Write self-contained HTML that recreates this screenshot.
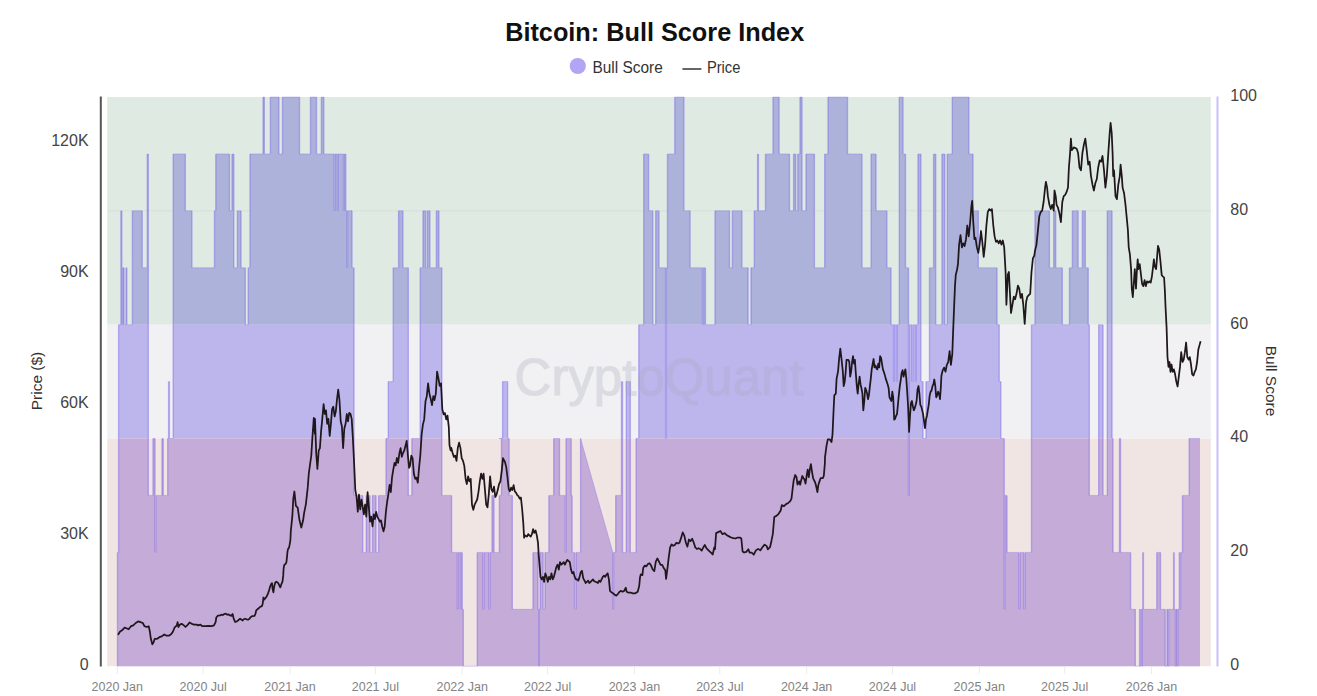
<!DOCTYPE html>
<html><head><meta charset="utf-8"><title>Bitcoin: Bull Score Index</title>
<style>html,body{margin:0;padding:0;background:#fff;}body{width:1317px;height:696px;overflow:hidden;}svg{display:block;}</style>
</head><body>
<svg width="1317" height="696" viewBox="0 0 1317 696"><rect x="107.2" y="97.0" width="1103.6" height="227.7" fill="#dfeae3"/><rect x="107.2" y="324.7" width="1103.6" height="113.8" fill="#f1f1f4"/><rect x="107.2" y="438.5" width="1103.6" height="227.7" fill="#f1e5e3"/><line x1="107.2" x2="1210.8" y1="210.8" y2="210.8" stroke="rgba(0,0,0,0.04)" stroke-width="1"/><defs><clipPath id="cg"><rect x="0" y="0" width="1317" height="324.7"/></clipPath><clipPath id="cy"><rect x="0" y="324.7" width="1317" height="113.8"/></clipPath><clipPath id="cp"><rect x="0" y="438.5" width="1317" height="696"/></clipPath></defs><text x="514.6" y="394.5" textLength="289" lengthAdjust="spacingAndGlyphs" font-family="Liberation Sans, sans-serif" font-size="51" fill="#ececf0" stroke="#ececf0" stroke-width="1.2">CryptoQuant</text><path d="M117.5,666.2 L117.5,552.4 L118.6,552.4 L118.6,324.7 L120.9,324.7 L120.9,210.8 L121.8,210.8 L121.8,324.7 L122.6,324.7 L122.6,267.8 L124.0,267.8 L124.0,324.7 L126.0,324.7 L126.0,267.8 L126.8,267.8 L126.8,324.7 L132.4,324.7 L132.4,210.8 L142.2,210.8 L142.2,267.8 L147.3,267.8 L147.3,153.9 L148.3,153.9 L148.3,495.4 L153.0,495.4 L153.0,438.5 L155.0,438.5 L155.0,552.4 L155.8,552.4 L155.8,495.4 L162.0,495.4 L162.0,438.5 L163.2,438.5 L163.2,495.4 L167.7,495.4 L167.7,438.5 L168.6,438.5 L168.6,381.6 L169.4,381.6 L169.4,438.5 L173.2,438.5 L173.2,153.9 L185.3,153.9 L185.3,210.8 L191.9,210.8 L191.9,267.8 L214.5,267.8 L214.5,210.8 L215.8,210.8 L215.8,153.9 L229.5,153.9 L229.5,210.8 L232.0,210.8 L232.0,153.9 L233.8,153.9 L233.8,267.8 L237.4,267.8 L237.4,210.8 L241.0,210.8 L241.0,267.8 L245.3,267.8 L245.3,324.7 L248.2,324.7 L248.2,267.8 L250.0,267.8 L250.0,153.9 L263.1,153.9 L263.1,97.0 L264.3,97.0 L264.3,153.9 L270.4,153.9 L270.4,97.0 L278.9,97.0 L278.9,153.9 L282.5,153.9 L282.5,97.0 L299.5,97.0 L299.5,153.9 L310.5,153.9 L310.5,97.0 L316.5,97.0 L316.5,153.9 L321.4,153.9 L321.4,97.0 L323.8,97.0 L323.8,153.9 L334.2,153.9 L334.2,210.8 L335.0,210.8 L335.0,153.9 L337.4,153.9 L337.4,210.8 L338.2,210.8 L338.2,153.9 L343.5,153.9 L343.5,210.8 L344.3,210.8 L344.3,153.9 L345.8,153.9 L345.8,210.8 L346.8,210.8 L346.8,267.8 L347.6,267.8 L347.6,210.8 L352.0,210.8 L352.0,267.8 L354.0,267.8 L354.0,495.4 L362.7,495.4 L362.7,552.4 L366.3,552.4 L366.3,495.4 L370.0,495.4 L370.0,552.4 L372.5,552.4 L372.5,495.4 L376.0,495.4 L376.0,552.4 L378.6,552.4 L378.6,495.4 L386.0,495.4 L386.0,438.5 L388.3,438.5 L388.3,381.6 L393.2,381.6 L393.2,267.8 L398.6,267.8 L398.6,210.8 L402.9,210.8 L402.9,267.8 L408.3,267.8 L408.3,495.4 L411.9,495.4 L411.9,438.5 L420.2,438.5 L420.2,267.8 L423.0,267.8 L423.0,210.8 L425.6,210.8 L425.6,267.8 L427.4,267.8 L427.4,210.8 L429.9,210.8 L429.9,267.8 L436.4,267.8 L436.4,210.8 L438.9,210.8 L438.9,267.8 L441.8,267.8 L441.8,495.4 L451.6,495.4 L451.6,552.4 L457.3,552.4 L457.3,609.3 L458.0,609.3 L458.0,552.4 L460.5,552.4 L460.5,609.3 L461.2,609.3 L461.2,552.4 L462.2,552.4 L462.2,609.3 L463.3,609.3 L463.3,666.2 L477.3,666.2 L477.3,552.4 L483.0,552.4 L483.0,609.3 L484.0,609.3 L484.0,552.4 L489.0,552.4 L489.0,609.3 L490.0,609.3 L490.0,552.4 L492.0,552.4 L492.0,495.4 L494.0,495.4 L494.0,552.4 L499.4,552.4 L499.4,495.4 L501.5,495.4 L501.5,438.5 L499.0,438.5 L499.0,438.5 L502.6,438.5 L502.6,381.6 L507.6,381.6 L507.6,438.5 L509.1,438.5 L509.1,495.4 L512.3,495.4 L512.3,609.3 L533.0,609.3 L533.0,552.4 L538.0,552.4 L538.0,609.3 L538.7,609.3 L538.7,666.2 L539.3,666.2 L539.3,609.3 L540.1,609.3 L540.1,552.4 L543.1,552.4 L543.1,609.3 L545.0,609.3 L545.0,552.4 L548.9,552.4 L548.9,495.4 L553.7,495.4 L553.7,438.5 L559.5,438.5 L559.5,495.4 L565.3,495.4 L565.3,552.4 L566.0,552.4 L566.0,438.5 L571.2,438.5 L571.2,495.4 L572.1,495.4 L572.1,552.4 L574.5,552.4 L574.5,609.3 L576.0,609.3 L576.0,552.4 L580.6,552.4 L580.6,438.5 L612.9,552.4 L612.9,552.4 L612.9,609.3 L613.6,609.3 L613.6,552.4 L615.7,552.4 L615.7,495.4 L621.5,495.4 L621.5,381.6 L622.5,381.6 L622.5,552.4 L626.3,552.4 L626.3,381.6 L630.3,381.6 L630.3,552.4 L636.1,552.4 L636.1,438.5 L638.8,438.5 L638.8,324.7 L643.7,324.7 L643.7,153.9 L648.6,153.9 L648.6,210.8 L652.8,210.8 L652.8,324.7 L655.7,324.7 L655.7,210.8 L659.0,210.8 L659.0,267.8 L665.6,267.8 L665.6,438.5 L666.4,438.5 L666.4,267.8 L667.5,267.8 L667.5,153.9 L674.8,153.9 L674.8,97.0 L683.9,97.0 L683.9,210.8 L690.1,210.8 L690.1,267.8 L702.5,267.8 L702.5,324.7 L703.5,324.7 L703.5,267.8 L705.4,267.8 L705.4,324.7 L715.0,324.7 L715.0,210.8 L729.5,210.8 L729.5,267.8 L732.4,267.8 L732.4,210.8 L741.9,210.8 L741.9,267.8 L748.1,267.8 L748.1,324.7 L751.0,324.7 L751.0,267.8 L754.3,267.8 L754.3,210.8 L757.6,210.8 L757.6,153.9 L758.4,153.9 L758.4,210.8 L765.5,210.8 L765.5,153.9 L773.0,153.9 L773.0,97.0 L779.1,97.0 L779.1,153.9 L789.5,153.9 L789.5,210.8 L793.6,210.8 L793.6,153.9 L795.7,153.9 L795.7,210.8 L797.8,210.8 L797.8,153.9 L800.0,153.9 L800.0,97.0 L802.0,97.0 L802.0,210.8 L806.0,210.8 L806.0,153.9 L814.4,153.9 L814.4,267.8 L824.7,267.8 L824.7,153.9 L828.0,153.9 L828.0,97.0 L847.5,97.0 L847.5,153.9 L862.0,153.9 L862.0,267.8 L871.1,267.8 L871.1,153.9 L876.0,153.9 L876.0,210.8 L886.9,210.8 L886.9,267.8 L891.0,267.8 L891.0,324.7 L893.5,324.7 L893.5,381.6 L894.3,381.6 L894.3,324.7 L896.5,324.7 L896.5,381.6 L897.3,381.6 L897.3,324.7 L899.3,324.7 L899.3,97.0 L903.0,97.0 L903.0,153.9 L905.5,153.9 L905.5,267.8 L908.5,267.8 L908.5,495.4 L909.3,495.4 L909.3,324.7 L912.0,324.7 L912.0,381.6 L912.8,381.6 L912.8,324.7 L915.5,324.7 L915.5,381.6 L916.3,381.6 L916.3,324.7 L918.0,324.7 L918.0,153.9 L920.9,153.9 L920.9,381.6 L923.0,381.6 L923.0,438.5 L926.0,438.5 L926.0,381.6 L929.5,381.6 L929.5,267.8 L933.6,267.8 L933.6,153.9 L935.7,153.9 L935.7,324.7 L942.0,324.7 L942.0,153.9 L944.8,153.9 L944.8,324.7 L947.3,324.7 L947.3,153.9 L952.3,153.9 L952.3,97.0 L968.9,97.0 L968.9,153.9 L973.0,153.9 L973.0,210.8 L978.3,210.8 L978.3,267.8 L997.0,267.8 L997.0,324.7 L999.2,324.7 L999.2,381.6 L1000.8,381.6 L1000.8,438.5 L1004.2,438.5 L1004.2,609.3 L1004.8,609.3 L1004.8,495.4 L1007.0,495.4 L1007.0,552.4 L1018.8,552.4 L1018.8,609.3 L1020.0,609.3 L1020.0,552.4 L1024.0,552.4 L1024.0,609.3 L1025.0,609.3 L1025.0,552.4 L1031.5,552.4 L1031.5,324.7 L1035.0,324.7 L1035.0,210.8 L1049.4,210.8 L1049.4,267.8 L1053.7,267.8 L1053.7,210.8 L1055.7,210.8 L1055.7,267.8 L1062.3,267.8 L1062.3,324.7 L1069.5,324.7 L1069.5,267.8 L1072.4,267.8 L1072.4,210.8 L1078.1,210.8 L1078.1,267.8 L1082.4,267.8 L1082.4,210.8 L1085.3,210.8 L1085.3,267.8 L1088.2,267.8 L1088.2,324.7 L1089.3,324.7 L1089.3,495.4 L1098.7,495.4 L1098.7,324.7 L1103.0,324.7 L1103.0,495.4 L1107.3,495.4 L1107.3,210.8 L1112.0,210.8 L1112.0,438.5 L1113.0,438.5 L1113.0,552.4 L1119.5,552.4 L1119.5,438.5 L1120.5,438.5 L1120.5,552.4 L1123.8,552.4 L1123.8,552.4 L1130.6,552.4 L1130.6,609.3 L1135.3,609.3 L1135.3,666.2 L1139.6,666.2 L1139.6,609.3 L1140.2,609.3 L1140.2,666.2 L1140.8,666.2 L1140.8,609.3 L1141.6,609.3 L1141.6,666.2 L1142.2,666.2 L1142.2,609.3 L1142.8,609.3 L1142.8,552.4 L1143.4,552.4 L1143.4,609.3 L1156.8,609.3 L1156.8,552.4 L1160.5,552.4 L1160.5,609.3 L1165.2,609.3 L1165.2,666.2 L1167.0,666.2 L1167.0,609.3 L1168.0,609.3 L1168.0,666.2 L1168.6,666.2 L1168.6,609.3 L1173.6,609.3 L1173.6,552.4 L1174.2,552.4 L1174.2,609.3 L1175.5,609.3 L1175.5,666.2 L1176.1,666.2 L1176.1,609.3 L1177.3,609.3 L1177.3,666.2 L1177.9,666.2 L1177.9,609.3 L1179.3,609.3 L1179.3,552.4 L1179.9,552.4 L1179.9,609.3 L1180.6,609.3 L1180.6,552.4 L1182.5,552.4 L1182.5,495.4 L1189.2,495.4 L1189.2,438.5 L1200.0,438.5 L1200.0,666.2 Z" fill="#acb2da" clip-path="url(#cg)"/><path d="M117.5,666.2 L117.5,552.4 L118.6,552.4 L118.6,324.7 L120.9,324.7 L120.9,210.8 L121.8,210.8 L121.8,324.7 L122.6,324.7 L122.6,267.8 L124.0,267.8 L124.0,324.7 L126.0,324.7 L126.0,267.8 L126.8,267.8 L126.8,324.7 L132.4,324.7 L132.4,210.8 L142.2,210.8 L142.2,267.8 L147.3,267.8 L147.3,153.9 L148.3,153.9 L148.3,495.4 L153.0,495.4 L153.0,438.5 L155.0,438.5 L155.0,552.4 L155.8,552.4 L155.8,495.4 L162.0,495.4 L162.0,438.5 L163.2,438.5 L163.2,495.4 L167.7,495.4 L167.7,438.5 L168.6,438.5 L168.6,381.6 L169.4,381.6 L169.4,438.5 L173.2,438.5 L173.2,153.9 L185.3,153.9 L185.3,210.8 L191.9,210.8 L191.9,267.8 L214.5,267.8 L214.5,210.8 L215.8,210.8 L215.8,153.9 L229.5,153.9 L229.5,210.8 L232.0,210.8 L232.0,153.9 L233.8,153.9 L233.8,267.8 L237.4,267.8 L237.4,210.8 L241.0,210.8 L241.0,267.8 L245.3,267.8 L245.3,324.7 L248.2,324.7 L248.2,267.8 L250.0,267.8 L250.0,153.9 L263.1,153.9 L263.1,97.0 L264.3,97.0 L264.3,153.9 L270.4,153.9 L270.4,97.0 L278.9,97.0 L278.9,153.9 L282.5,153.9 L282.5,97.0 L299.5,97.0 L299.5,153.9 L310.5,153.9 L310.5,97.0 L316.5,97.0 L316.5,153.9 L321.4,153.9 L321.4,97.0 L323.8,97.0 L323.8,153.9 L334.2,153.9 L334.2,210.8 L335.0,210.8 L335.0,153.9 L337.4,153.9 L337.4,210.8 L338.2,210.8 L338.2,153.9 L343.5,153.9 L343.5,210.8 L344.3,210.8 L344.3,153.9 L345.8,153.9 L345.8,210.8 L346.8,210.8 L346.8,267.8 L347.6,267.8 L347.6,210.8 L352.0,210.8 L352.0,267.8 L354.0,267.8 L354.0,495.4 L362.7,495.4 L362.7,552.4 L366.3,552.4 L366.3,495.4 L370.0,495.4 L370.0,552.4 L372.5,552.4 L372.5,495.4 L376.0,495.4 L376.0,552.4 L378.6,552.4 L378.6,495.4 L386.0,495.4 L386.0,438.5 L388.3,438.5 L388.3,381.6 L393.2,381.6 L393.2,267.8 L398.6,267.8 L398.6,210.8 L402.9,210.8 L402.9,267.8 L408.3,267.8 L408.3,495.4 L411.9,495.4 L411.9,438.5 L420.2,438.5 L420.2,267.8 L423.0,267.8 L423.0,210.8 L425.6,210.8 L425.6,267.8 L427.4,267.8 L427.4,210.8 L429.9,210.8 L429.9,267.8 L436.4,267.8 L436.4,210.8 L438.9,210.8 L438.9,267.8 L441.8,267.8 L441.8,495.4 L451.6,495.4 L451.6,552.4 L457.3,552.4 L457.3,609.3 L458.0,609.3 L458.0,552.4 L460.5,552.4 L460.5,609.3 L461.2,609.3 L461.2,552.4 L462.2,552.4 L462.2,609.3 L463.3,609.3 L463.3,666.2 L477.3,666.2 L477.3,552.4 L483.0,552.4 L483.0,609.3 L484.0,609.3 L484.0,552.4 L489.0,552.4 L489.0,609.3 L490.0,609.3 L490.0,552.4 L492.0,552.4 L492.0,495.4 L494.0,495.4 L494.0,552.4 L499.4,552.4 L499.4,495.4 L501.5,495.4 L501.5,438.5 L499.0,438.5 L499.0,438.5 L502.6,438.5 L502.6,381.6 L507.6,381.6 L507.6,438.5 L509.1,438.5 L509.1,495.4 L512.3,495.4 L512.3,609.3 L533.0,609.3 L533.0,552.4 L538.0,552.4 L538.0,609.3 L538.7,609.3 L538.7,666.2 L539.3,666.2 L539.3,609.3 L540.1,609.3 L540.1,552.4 L543.1,552.4 L543.1,609.3 L545.0,609.3 L545.0,552.4 L548.9,552.4 L548.9,495.4 L553.7,495.4 L553.7,438.5 L559.5,438.5 L559.5,495.4 L565.3,495.4 L565.3,552.4 L566.0,552.4 L566.0,438.5 L571.2,438.5 L571.2,495.4 L572.1,495.4 L572.1,552.4 L574.5,552.4 L574.5,609.3 L576.0,609.3 L576.0,552.4 L580.6,552.4 L580.6,438.5 L612.9,552.4 L612.9,552.4 L612.9,609.3 L613.6,609.3 L613.6,552.4 L615.7,552.4 L615.7,495.4 L621.5,495.4 L621.5,381.6 L622.5,381.6 L622.5,552.4 L626.3,552.4 L626.3,381.6 L630.3,381.6 L630.3,552.4 L636.1,552.4 L636.1,438.5 L638.8,438.5 L638.8,324.7 L643.7,324.7 L643.7,153.9 L648.6,153.9 L648.6,210.8 L652.8,210.8 L652.8,324.7 L655.7,324.7 L655.7,210.8 L659.0,210.8 L659.0,267.8 L665.6,267.8 L665.6,438.5 L666.4,438.5 L666.4,267.8 L667.5,267.8 L667.5,153.9 L674.8,153.9 L674.8,97.0 L683.9,97.0 L683.9,210.8 L690.1,210.8 L690.1,267.8 L702.5,267.8 L702.5,324.7 L703.5,324.7 L703.5,267.8 L705.4,267.8 L705.4,324.7 L715.0,324.7 L715.0,210.8 L729.5,210.8 L729.5,267.8 L732.4,267.8 L732.4,210.8 L741.9,210.8 L741.9,267.8 L748.1,267.8 L748.1,324.7 L751.0,324.7 L751.0,267.8 L754.3,267.8 L754.3,210.8 L757.6,210.8 L757.6,153.9 L758.4,153.9 L758.4,210.8 L765.5,210.8 L765.5,153.9 L773.0,153.9 L773.0,97.0 L779.1,97.0 L779.1,153.9 L789.5,153.9 L789.5,210.8 L793.6,210.8 L793.6,153.9 L795.7,153.9 L795.7,210.8 L797.8,210.8 L797.8,153.9 L800.0,153.9 L800.0,97.0 L802.0,97.0 L802.0,210.8 L806.0,210.8 L806.0,153.9 L814.4,153.9 L814.4,267.8 L824.7,267.8 L824.7,153.9 L828.0,153.9 L828.0,97.0 L847.5,97.0 L847.5,153.9 L862.0,153.9 L862.0,267.8 L871.1,267.8 L871.1,153.9 L876.0,153.9 L876.0,210.8 L886.9,210.8 L886.9,267.8 L891.0,267.8 L891.0,324.7 L893.5,324.7 L893.5,381.6 L894.3,381.6 L894.3,324.7 L896.5,324.7 L896.5,381.6 L897.3,381.6 L897.3,324.7 L899.3,324.7 L899.3,97.0 L903.0,97.0 L903.0,153.9 L905.5,153.9 L905.5,267.8 L908.5,267.8 L908.5,495.4 L909.3,495.4 L909.3,324.7 L912.0,324.7 L912.0,381.6 L912.8,381.6 L912.8,324.7 L915.5,324.7 L915.5,381.6 L916.3,381.6 L916.3,324.7 L918.0,324.7 L918.0,153.9 L920.9,153.9 L920.9,381.6 L923.0,381.6 L923.0,438.5 L926.0,438.5 L926.0,381.6 L929.5,381.6 L929.5,267.8 L933.6,267.8 L933.6,153.9 L935.7,153.9 L935.7,324.7 L942.0,324.7 L942.0,153.9 L944.8,153.9 L944.8,324.7 L947.3,324.7 L947.3,153.9 L952.3,153.9 L952.3,97.0 L968.9,97.0 L968.9,153.9 L973.0,153.9 L973.0,210.8 L978.3,210.8 L978.3,267.8 L997.0,267.8 L997.0,324.7 L999.2,324.7 L999.2,381.6 L1000.8,381.6 L1000.8,438.5 L1004.2,438.5 L1004.2,609.3 L1004.8,609.3 L1004.8,495.4 L1007.0,495.4 L1007.0,552.4 L1018.8,552.4 L1018.8,609.3 L1020.0,609.3 L1020.0,552.4 L1024.0,552.4 L1024.0,609.3 L1025.0,609.3 L1025.0,552.4 L1031.5,552.4 L1031.5,324.7 L1035.0,324.7 L1035.0,210.8 L1049.4,210.8 L1049.4,267.8 L1053.7,267.8 L1053.7,210.8 L1055.7,210.8 L1055.7,267.8 L1062.3,267.8 L1062.3,324.7 L1069.5,324.7 L1069.5,267.8 L1072.4,267.8 L1072.4,210.8 L1078.1,210.8 L1078.1,267.8 L1082.4,267.8 L1082.4,210.8 L1085.3,210.8 L1085.3,267.8 L1088.2,267.8 L1088.2,324.7 L1089.3,324.7 L1089.3,495.4 L1098.7,495.4 L1098.7,324.7 L1103.0,324.7 L1103.0,495.4 L1107.3,495.4 L1107.3,210.8 L1112.0,210.8 L1112.0,438.5 L1113.0,438.5 L1113.0,552.4 L1119.5,552.4 L1119.5,438.5 L1120.5,438.5 L1120.5,552.4 L1123.8,552.4 L1123.8,552.4 L1130.6,552.4 L1130.6,609.3 L1135.3,609.3 L1135.3,666.2 L1139.6,666.2 L1139.6,609.3 L1140.2,609.3 L1140.2,666.2 L1140.8,666.2 L1140.8,609.3 L1141.6,609.3 L1141.6,666.2 L1142.2,666.2 L1142.2,609.3 L1142.8,609.3 L1142.8,552.4 L1143.4,552.4 L1143.4,609.3 L1156.8,609.3 L1156.8,552.4 L1160.5,552.4 L1160.5,609.3 L1165.2,609.3 L1165.2,666.2 L1167.0,666.2 L1167.0,609.3 L1168.0,609.3 L1168.0,666.2 L1168.6,666.2 L1168.6,609.3 L1173.6,609.3 L1173.6,552.4 L1174.2,552.4 L1174.2,609.3 L1175.5,609.3 L1175.5,666.2 L1176.1,666.2 L1176.1,609.3 L1177.3,609.3 L1177.3,666.2 L1177.9,666.2 L1177.9,609.3 L1179.3,609.3 L1179.3,552.4 L1179.9,552.4 L1179.9,609.3 L1180.6,609.3 L1180.6,552.4 L1182.5,552.4 L1182.5,495.4 L1189.2,495.4 L1189.2,438.5 L1200.0,438.5 L1200.0,666.2 Z" fill="#bcb6ed" clip-path="url(#cy)"/><path d="M117.5,666.2 L117.5,552.4 L118.6,552.4 L118.6,324.7 L120.9,324.7 L120.9,210.8 L121.8,210.8 L121.8,324.7 L122.6,324.7 L122.6,267.8 L124.0,267.8 L124.0,324.7 L126.0,324.7 L126.0,267.8 L126.8,267.8 L126.8,324.7 L132.4,324.7 L132.4,210.8 L142.2,210.8 L142.2,267.8 L147.3,267.8 L147.3,153.9 L148.3,153.9 L148.3,495.4 L153.0,495.4 L153.0,438.5 L155.0,438.5 L155.0,552.4 L155.8,552.4 L155.8,495.4 L162.0,495.4 L162.0,438.5 L163.2,438.5 L163.2,495.4 L167.7,495.4 L167.7,438.5 L168.6,438.5 L168.6,381.6 L169.4,381.6 L169.4,438.5 L173.2,438.5 L173.2,153.9 L185.3,153.9 L185.3,210.8 L191.9,210.8 L191.9,267.8 L214.5,267.8 L214.5,210.8 L215.8,210.8 L215.8,153.9 L229.5,153.9 L229.5,210.8 L232.0,210.8 L232.0,153.9 L233.8,153.9 L233.8,267.8 L237.4,267.8 L237.4,210.8 L241.0,210.8 L241.0,267.8 L245.3,267.8 L245.3,324.7 L248.2,324.7 L248.2,267.8 L250.0,267.8 L250.0,153.9 L263.1,153.9 L263.1,97.0 L264.3,97.0 L264.3,153.9 L270.4,153.9 L270.4,97.0 L278.9,97.0 L278.9,153.9 L282.5,153.9 L282.5,97.0 L299.5,97.0 L299.5,153.9 L310.5,153.9 L310.5,97.0 L316.5,97.0 L316.5,153.9 L321.4,153.9 L321.4,97.0 L323.8,97.0 L323.8,153.9 L334.2,153.9 L334.2,210.8 L335.0,210.8 L335.0,153.9 L337.4,153.9 L337.4,210.8 L338.2,210.8 L338.2,153.9 L343.5,153.9 L343.5,210.8 L344.3,210.8 L344.3,153.9 L345.8,153.9 L345.8,210.8 L346.8,210.8 L346.8,267.8 L347.6,267.8 L347.6,210.8 L352.0,210.8 L352.0,267.8 L354.0,267.8 L354.0,495.4 L362.7,495.4 L362.7,552.4 L366.3,552.4 L366.3,495.4 L370.0,495.4 L370.0,552.4 L372.5,552.4 L372.5,495.4 L376.0,495.4 L376.0,552.4 L378.6,552.4 L378.6,495.4 L386.0,495.4 L386.0,438.5 L388.3,438.5 L388.3,381.6 L393.2,381.6 L393.2,267.8 L398.6,267.8 L398.6,210.8 L402.9,210.8 L402.9,267.8 L408.3,267.8 L408.3,495.4 L411.9,495.4 L411.9,438.5 L420.2,438.5 L420.2,267.8 L423.0,267.8 L423.0,210.8 L425.6,210.8 L425.6,267.8 L427.4,267.8 L427.4,210.8 L429.9,210.8 L429.9,267.8 L436.4,267.8 L436.4,210.8 L438.9,210.8 L438.9,267.8 L441.8,267.8 L441.8,495.4 L451.6,495.4 L451.6,552.4 L457.3,552.4 L457.3,609.3 L458.0,609.3 L458.0,552.4 L460.5,552.4 L460.5,609.3 L461.2,609.3 L461.2,552.4 L462.2,552.4 L462.2,609.3 L463.3,609.3 L463.3,666.2 L477.3,666.2 L477.3,552.4 L483.0,552.4 L483.0,609.3 L484.0,609.3 L484.0,552.4 L489.0,552.4 L489.0,609.3 L490.0,609.3 L490.0,552.4 L492.0,552.4 L492.0,495.4 L494.0,495.4 L494.0,552.4 L499.4,552.4 L499.4,495.4 L501.5,495.4 L501.5,438.5 L499.0,438.5 L499.0,438.5 L502.6,438.5 L502.6,381.6 L507.6,381.6 L507.6,438.5 L509.1,438.5 L509.1,495.4 L512.3,495.4 L512.3,609.3 L533.0,609.3 L533.0,552.4 L538.0,552.4 L538.0,609.3 L538.7,609.3 L538.7,666.2 L539.3,666.2 L539.3,609.3 L540.1,609.3 L540.1,552.4 L543.1,552.4 L543.1,609.3 L545.0,609.3 L545.0,552.4 L548.9,552.4 L548.9,495.4 L553.7,495.4 L553.7,438.5 L559.5,438.5 L559.5,495.4 L565.3,495.4 L565.3,552.4 L566.0,552.4 L566.0,438.5 L571.2,438.5 L571.2,495.4 L572.1,495.4 L572.1,552.4 L574.5,552.4 L574.5,609.3 L576.0,609.3 L576.0,552.4 L580.6,552.4 L580.6,438.5 L612.9,552.4 L612.9,552.4 L612.9,609.3 L613.6,609.3 L613.6,552.4 L615.7,552.4 L615.7,495.4 L621.5,495.4 L621.5,381.6 L622.5,381.6 L622.5,552.4 L626.3,552.4 L626.3,381.6 L630.3,381.6 L630.3,552.4 L636.1,552.4 L636.1,438.5 L638.8,438.5 L638.8,324.7 L643.7,324.7 L643.7,153.9 L648.6,153.9 L648.6,210.8 L652.8,210.8 L652.8,324.7 L655.7,324.7 L655.7,210.8 L659.0,210.8 L659.0,267.8 L665.6,267.8 L665.6,438.5 L666.4,438.5 L666.4,267.8 L667.5,267.8 L667.5,153.9 L674.8,153.9 L674.8,97.0 L683.9,97.0 L683.9,210.8 L690.1,210.8 L690.1,267.8 L702.5,267.8 L702.5,324.7 L703.5,324.7 L703.5,267.8 L705.4,267.8 L705.4,324.7 L715.0,324.7 L715.0,210.8 L729.5,210.8 L729.5,267.8 L732.4,267.8 L732.4,210.8 L741.9,210.8 L741.9,267.8 L748.1,267.8 L748.1,324.7 L751.0,324.7 L751.0,267.8 L754.3,267.8 L754.3,210.8 L757.6,210.8 L757.6,153.9 L758.4,153.9 L758.4,210.8 L765.5,210.8 L765.5,153.9 L773.0,153.9 L773.0,97.0 L779.1,97.0 L779.1,153.9 L789.5,153.9 L789.5,210.8 L793.6,210.8 L793.6,153.9 L795.7,153.9 L795.7,210.8 L797.8,210.8 L797.8,153.9 L800.0,153.9 L800.0,97.0 L802.0,97.0 L802.0,210.8 L806.0,210.8 L806.0,153.9 L814.4,153.9 L814.4,267.8 L824.7,267.8 L824.7,153.9 L828.0,153.9 L828.0,97.0 L847.5,97.0 L847.5,153.9 L862.0,153.9 L862.0,267.8 L871.1,267.8 L871.1,153.9 L876.0,153.9 L876.0,210.8 L886.9,210.8 L886.9,267.8 L891.0,267.8 L891.0,324.7 L893.5,324.7 L893.5,381.6 L894.3,381.6 L894.3,324.7 L896.5,324.7 L896.5,381.6 L897.3,381.6 L897.3,324.7 L899.3,324.7 L899.3,97.0 L903.0,97.0 L903.0,153.9 L905.5,153.9 L905.5,267.8 L908.5,267.8 L908.5,495.4 L909.3,495.4 L909.3,324.7 L912.0,324.7 L912.0,381.6 L912.8,381.6 L912.8,324.7 L915.5,324.7 L915.5,381.6 L916.3,381.6 L916.3,324.7 L918.0,324.7 L918.0,153.9 L920.9,153.9 L920.9,381.6 L923.0,381.6 L923.0,438.5 L926.0,438.5 L926.0,381.6 L929.5,381.6 L929.5,267.8 L933.6,267.8 L933.6,153.9 L935.7,153.9 L935.7,324.7 L942.0,324.7 L942.0,153.9 L944.8,153.9 L944.8,324.7 L947.3,324.7 L947.3,153.9 L952.3,153.9 L952.3,97.0 L968.9,97.0 L968.9,153.9 L973.0,153.9 L973.0,210.8 L978.3,210.8 L978.3,267.8 L997.0,267.8 L997.0,324.7 L999.2,324.7 L999.2,381.6 L1000.8,381.6 L1000.8,438.5 L1004.2,438.5 L1004.2,609.3 L1004.8,609.3 L1004.8,495.4 L1007.0,495.4 L1007.0,552.4 L1018.8,552.4 L1018.8,609.3 L1020.0,609.3 L1020.0,552.4 L1024.0,552.4 L1024.0,609.3 L1025.0,609.3 L1025.0,552.4 L1031.5,552.4 L1031.5,324.7 L1035.0,324.7 L1035.0,210.8 L1049.4,210.8 L1049.4,267.8 L1053.7,267.8 L1053.7,210.8 L1055.7,210.8 L1055.7,267.8 L1062.3,267.8 L1062.3,324.7 L1069.5,324.7 L1069.5,267.8 L1072.4,267.8 L1072.4,210.8 L1078.1,210.8 L1078.1,267.8 L1082.4,267.8 L1082.4,210.8 L1085.3,210.8 L1085.3,267.8 L1088.2,267.8 L1088.2,324.7 L1089.3,324.7 L1089.3,495.4 L1098.7,495.4 L1098.7,324.7 L1103.0,324.7 L1103.0,495.4 L1107.3,495.4 L1107.3,210.8 L1112.0,210.8 L1112.0,438.5 L1113.0,438.5 L1113.0,552.4 L1119.5,552.4 L1119.5,438.5 L1120.5,438.5 L1120.5,552.4 L1123.8,552.4 L1123.8,552.4 L1130.6,552.4 L1130.6,609.3 L1135.3,609.3 L1135.3,666.2 L1139.6,666.2 L1139.6,609.3 L1140.2,609.3 L1140.2,666.2 L1140.8,666.2 L1140.8,609.3 L1141.6,609.3 L1141.6,666.2 L1142.2,666.2 L1142.2,609.3 L1142.8,609.3 L1142.8,552.4 L1143.4,552.4 L1143.4,609.3 L1156.8,609.3 L1156.8,552.4 L1160.5,552.4 L1160.5,609.3 L1165.2,609.3 L1165.2,666.2 L1167.0,666.2 L1167.0,609.3 L1168.0,609.3 L1168.0,666.2 L1168.6,666.2 L1168.6,609.3 L1173.6,609.3 L1173.6,552.4 L1174.2,552.4 L1174.2,609.3 L1175.5,609.3 L1175.5,666.2 L1176.1,666.2 L1176.1,609.3 L1177.3,609.3 L1177.3,666.2 L1177.9,666.2 L1177.9,609.3 L1179.3,609.3 L1179.3,552.4 L1179.9,552.4 L1179.9,609.3 L1180.6,609.3 L1180.6,552.4 L1182.5,552.4 L1182.5,495.4 L1189.2,495.4 L1189.2,438.5 L1200.0,438.5 L1200.0,666.2 Z" fill="#c4abd8" clip-path="url(#cp)"/><path d="M117.5,552.4L118.6,552.4M118.6,324.7L120.9,324.7M120.9,210.8L121.8,210.8M121.8,324.7L122.6,324.7M122.6,267.8L124.0,267.8M124.0,324.7L126.0,324.7M126.0,267.8L126.8,267.8M126.8,324.7L132.4,324.7M132.4,210.8L142.2,210.8M142.2,267.8L147.3,267.8M147.3,153.9L148.3,153.9M148.3,495.4L153.0,495.4M153.0,438.5L155.0,438.5M155.0,552.4L155.8,552.4M155.8,495.4L162.0,495.4M162.0,438.5L163.2,438.5M163.2,495.4L167.7,495.4M167.7,438.5L168.6,438.5M168.6,381.6L169.4,381.6M169.4,438.5L173.2,438.5M173.2,153.9L185.3,153.9M185.3,210.8L191.9,210.8M191.9,267.8L214.5,267.8M214.5,210.8L215.8,210.8M215.8,153.9L229.5,153.9M229.5,210.8L232.0,210.8M232.0,153.9L233.8,153.9M233.8,267.8L237.4,267.8M237.4,210.8L241.0,210.8M241.0,267.8L245.3,267.8M245.3,324.7L248.2,324.7M248.2,267.8L250.0,267.8M250.0,153.9L263.1,153.9M263.1,97.0L264.3,97.0M264.3,153.9L270.4,153.9M270.4,97.0L278.9,97.0M278.9,153.9L282.5,153.9M282.5,97.0L299.5,97.0M299.5,153.9L310.5,153.9M310.5,97.0L316.5,97.0M316.5,153.9L321.4,153.9M321.4,97.0L323.8,97.0M323.8,153.9L334.2,153.9M334.2,210.8L335.0,210.8M335.0,153.9L337.4,153.9M337.4,210.8L338.2,210.8M338.2,153.9L343.5,153.9M343.5,210.8L344.3,210.8M344.3,153.9L345.8,153.9M345.8,210.8L346.8,210.8M346.8,267.8L347.6,267.8M347.6,210.8L352.0,210.8M352.0,267.8L354.0,267.8M354.0,495.4L362.7,495.4M362.7,552.4L366.3,552.4M366.3,495.4L370.0,495.4M370.0,552.4L372.5,552.4M372.5,495.4L376.0,495.4M376.0,552.4L378.6,552.4M378.6,495.4L386.0,495.4M386.0,438.5L388.3,438.5M388.3,381.6L393.2,381.6M393.2,267.8L398.6,267.8M398.6,210.8L402.9,210.8M402.9,267.8L408.3,267.8M408.3,495.4L411.9,495.4M411.9,438.5L420.2,438.5M420.2,267.8L423.0,267.8M423.0,210.8L425.6,210.8M425.6,267.8L427.4,267.8M427.4,210.8L429.9,210.8M429.9,267.8L436.4,267.8M436.4,210.8L438.9,210.8M438.9,267.8L441.8,267.8M441.8,495.4L451.6,495.4M451.6,552.4L457.3,552.4M457.3,609.3L458.0,609.3M458.0,552.4L460.5,552.4M460.5,609.3L461.2,609.3M461.2,552.4L462.2,552.4M462.2,609.3L463.3,609.3M463.3,666.2L477.3,666.2M477.3,552.4L483.0,552.4M483.0,609.3L484.0,609.3M484.0,552.4L489.0,552.4M489.0,609.3L490.0,609.3M490.0,552.4L492.0,552.4M492.0,495.4L494.0,495.4M494.0,552.4L499.4,552.4M499.4,495.4L501.5,495.4M501.5,438.5L499.0,438.5M499.0,438.5L502.6,438.5M502.6,381.6L507.6,381.6M507.6,438.5L509.1,438.5M509.1,495.4L512.3,495.4M512.3,609.3L533.0,609.3M533.0,552.4L538.0,552.4M538.0,609.3L538.7,609.3M538.7,666.2L539.3,666.2M539.3,609.3L540.1,609.3M540.1,552.4L543.1,552.4M543.1,609.3L545.0,609.3M545.0,552.4L548.9,552.4M548.9,495.4L553.7,495.4M553.7,438.5L559.5,438.5M559.5,495.4L565.3,495.4M565.3,552.4L566.0,552.4M566.0,438.5L571.2,438.5M571.2,495.4L572.1,495.4M572.1,552.4L574.5,552.4M574.5,609.3L576.0,609.3M576.0,552.4L580.6,552.4M580.6,438.5L612.9,552.4M612.9,609.3L613.6,609.3M613.6,552.4L615.7,552.4M615.7,495.4L621.5,495.4M621.5,381.6L622.5,381.6M622.5,552.4L626.3,552.4M626.3,381.6L630.3,381.6M630.3,552.4L636.1,552.4M636.1,438.5L638.8,438.5M638.8,324.7L643.7,324.7M643.7,153.9L648.6,153.9M648.6,210.8L652.8,210.8M652.8,324.7L655.7,324.7M655.7,210.8L659.0,210.8M659.0,267.8L665.6,267.8M665.6,438.5L666.4,438.5M666.4,267.8L667.5,267.8M667.5,153.9L674.8,153.9M674.8,97.0L683.9,97.0M683.9,210.8L690.1,210.8M690.1,267.8L702.5,267.8M702.5,324.7L703.5,324.7M703.5,267.8L705.4,267.8M705.4,324.7L715.0,324.7M715.0,210.8L729.5,210.8M729.5,267.8L732.4,267.8M732.4,210.8L741.9,210.8M741.9,267.8L748.1,267.8M748.1,324.7L751.0,324.7M751.0,267.8L754.3,267.8M754.3,210.8L757.6,210.8M757.6,153.9L758.4,153.9M758.4,210.8L765.5,210.8M765.5,153.9L773.0,153.9M773.0,97.0L779.1,97.0M779.1,153.9L789.5,153.9M789.5,210.8L793.6,210.8M793.6,153.9L795.7,153.9M795.7,210.8L797.8,210.8M797.8,153.9L800.0,153.9M800.0,97.0L802.0,97.0M802.0,210.8L806.0,210.8M806.0,153.9L814.4,153.9M814.4,267.8L824.7,267.8M824.7,153.9L828.0,153.9M828.0,97.0L847.5,97.0M847.5,153.9L862.0,153.9M862.0,267.8L871.1,267.8M871.1,153.9L876.0,153.9M876.0,210.8L886.9,210.8M886.9,267.8L891.0,267.8M891.0,324.7L893.5,324.7M893.5,381.6L894.3,381.6M894.3,324.7L896.5,324.7M896.5,381.6L897.3,381.6M897.3,324.7L899.3,324.7M899.3,97.0L903.0,97.0M903.0,153.9L905.5,153.9M905.5,267.8L908.5,267.8M908.5,495.4L909.3,495.4M909.3,324.7L912.0,324.7M912.0,381.6L912.8,381.6M912.8,324.7L915.5,324.7M915.5,381.6L916.3,381.6M916.3,324.7L918.0,324.7M918.0,153.9L920.9,153.9M920.9,381.6L923.0,381.6M923.0,438.5L926.0,438.5M926.0,381.6L929.5,381.6M929.5,267.8L933.6,267.8M933.6,153.9L935.7,153.9M935.7,324.7L942.0,324.7M942.0,153.9L944.8,153.9M944.8,324.7L947.3,324.7M947.3,153.9L952.3,153.9M952.3,97.0L968.9,97.0M968.9,153.9L973.0,153.9M973.0,210.8L978.3,210.8M978.3,267.8L997.0,267.8M997.0,324.7L999.2,324.7M999.2,381.6L1000.8,381.6M1000.8,438.5L1004.2,438.5M1004.2,609.3L1004.8,609.3M1004.8,495.4L1007.0,495.4M1007.0,552.4L1018.8,552.4M1018.8,609.3L1020.0,609.3M1020.0,552.4L1024.0,552.4M1024.0,609.3L1025.0,609.3M1025.0,552.4L1031.5,552.4M1031.5,324.7L1035.0,324.7M1035.0,210.8L1049.4,210.8M1049.4,267.8L1053.7,267.8M1053.7,210.8L1055.7,210.8M1055.7,267.8L1062.3,267.8M1062.3,324.7L1069.5,324.7M1069.5,267.8L1072.4,267.8M1072.4,210.8L1078.1,210.8M1078.1,267.8L1082.4,267.8M1082.4,210.8L1085.3,210.8M1085.3,267.8L1088.2,267.8M1088.2,324.7L1089.3,324.7M1089.3,495.4L1098.7,495.4M1098.7,324.7L1103.0,324.7M1103.0,495.4L1107.3,495.4M1107.3,210.8L1112.0,210.8M1112.0,438.5L1113.0,438.5M1113.0,552.4L1119.5,552.4M1119.5,438.5L1120.5,438.5M1120.5,552.4L1123.8,552.4M1123.8,552.4L1130.6,552.4M1130.6,609.3L1135.3,609.3M1135.3,666.2L1139.6,666.2M1139.6,609.3L1140.2,609.3M1140.2,666.2L1140.8,666.2M1140.8,609.3L1141.6,609.3M1141.6,666.2L1142.2,666.2M1142.2,609.3L1142.8,609.3M1142.8,552.4L1143.4,552.4M1143.4,609.3L1156.8,609.3M1156.8,552.4L1160.5,552.4M1160.5,609.3L1165.2,609.3M1165.2,666.2L1167.0,666.2M1167.0,609.3L1168.0,609.3M1168.0,666.2L1168.6,666.2M1168.6,609.3L1173.6,609.3M1173.6,552.4L1174.2,552.4M1174.2,609.3L1175.5,609.3M1175.5,666.2L1176.1,666.2M1176.1,609.3L1177.3,609.3M1177.3,666.2L1177.9,666.2M1177.9,609.3L1179.3,609.3M1179.3,552.4L1179.9,552.4M1179.9,609.3L1180.6,609.3M1180.6,552.4L1182.5,552.4M1182.5,495.4L1189.2,495.4M1189.2,438.5L1200.0,438.5" fill="none" stroke="rgba(120,100,235,0.3)" stroke-width="1"/><path d="M117.5,666.2L117.5,552.4M118.6,552.4L118.6,324.7M120.9,324.7L120.9,210.8M121.8,210.8L121.8,324.7M122.6,324.7L122.6,267.8M124.0,267.8L124.0,324.7M126.0,324.7L126.0,267.8M126.8,267.8L126.8,324.7M132.4,324.7L132.4,210.8M142.2,210.8L142.2,267.8M147.3,267.8L147.3,153.9M148.3,153.9L148.3,495.4M153.0,495.4L153.0,438.5M155.0,438.5L155.0,552.4M155.8,552.4L155.8,495.4M162.0,495.4L162.0,438.5M163.2,438.5L163.2,495.4M167.7,495.4L167.7,438.5M168.6,438.5L168.6,381.6M169.4,381.6L169.4,438.5M173.2,438.5L173.2,153.9M185.3,153.9L185.3,210.8M191.9,210.8L191.9,267.8M214.5,267.8L214.5,210.8M215.8,210.8L215.8,153.9M229.5,153.9L229.5,210.8M232.0,210.8L232.0,153.9M233.8,153.9L233.8,267.8M237.4,267.8L237.4,210.8M241.0,210.8L241.0,267.8M245.3,267.8L245.3,324.7M248.2,324.7L248.2,267.8M250.0,267.8L250.0,153.9M263.1,153.9L263.1,97.0M264.3,97.0L264.3,153.9M270.4,153.9L270.4,97.0M278.9,97.0L278.9,153.9M282.5,153.9L282.5,97.0M299.5,97.0L299.5,153.9M310.5,153.9L310.5,97.0M316.5,97.0L316.5,153.9M321.4,153.9L321.4,97.0M323.8,97.0L323.8,153.9M334.2,153.9L334.2,210.8M335.0,210.8L335.0,153.9M337.4,153.9L337.4,210.8M338.2,210.8L338.2,153.9M343.5,153.9L343.5,210.8M344.3,210.8L344.3,153.9M345.8,153.9L345.8,210.8M346.8,210.8L346.8,267.8M347.6,267.8L347.6,210.8M352.0,210.8L352.0,267.8M354.0,267.8L354.0,495.4M362.7,495.4L362.7,552.4M366.3,552.4L366.3,495.4M370.0,495.4L370.0,552.4M372.5,552.4L372.5,495.4M376.0,495.4L376.0,552.4M378.6,552.4L378.6,495.4M386.0,495.4L386.0,438.5M388.3,438.5L388.3,381.6M393.2,381.6L393.2,267.8M398.6,267.8L398.6,210.8M402.9,210.8L402.9,267.8M408.3,267.8L408.3,495.4M411.9,495.4L411.9,438.5M420.2,438.5L420.2,267.8M423.0,267.8L423.0,210.8M425.6,210.8L425.6,267.8M427.4,267.8L427.4,210.8M429.9,210.8L429.9,267.8M436.4,267.8L436.4,210.8M438.9,210.8L438.9,267.8M441.8,267.8L441.8,495.4M451.6,495.4L451.6,552.4M457.3,552.4L457.3,609.3M458.0,609.3L458.0,552.4M460.5,552.4L460.5,609.3M461.2,609.3L461.2,552.4M462.2,552.4L462.2,609.3M463.3,609.3L463.3,666.2M477.3,666.2L477.3,552.4M483.0,552.4L483.0,609.3M484.0,609.3L484.0,552.4M489.0,552.4L489.0,609.3M490.0,609.3L490.0,552.4M492.0,552.4L492.0,495.4M494.0,495.4L494.0,552.4M499.4,552.4L499.4,495.4M501.5,495.4L501.5,438.5M499.0,438.5L499.0,438.5M502.6,438.5L502.6,381.6M507.6,381.6L507.6,438.5M509.1,438.5L509.1,495.4M512.3,495.4L512.3,609.3M533.0,609.3L533.0,552.4M538.0,552.4L538.0,609.3M538.7,609.3L538.7,666.2M539.3,666.2L539.3,609.3M540.1,609.3L540.1,552.4M543.1,552.4L543.1,609.3M545.0,609.3L545.0,552.4M548.9,552.4L548.9,495.4M553.7,495.4L553.7,438.5M559.5,438.5L559.5,495.4M565.3,495.4L565.3,552.4M566.0,552.4L566.0,438.5M571.2,438.5L571.2,495.4M572.1,495.4L572.1,552.4M574.5,552.4L574.5,609.3M576.0,609.3L576.0,552.4M580.6,552.4L580.6,438.5M612.9,552.4L612.9,552.4M612.9,552.4L612.9,609.3M613.6,609.3L613.6,552.4M615.7,552.4L615.7,495.4M621.5,495.4L621.5,381.6M622.5,381.6L622.5,552.4M626.3,552.4L626.3,381.6M630.3,381.6L630.3,552.4M636.1,552.4L636.1,438.5M638.8,438.5L638.8,324.7M643.7,324.7L643.7,153.9M648.6,153.9L648.6,210.8M652.8,210.8L652.8,324.7M655.7,324.7L655.7,210.8M659.0,210.8L659.0,267.8M665.6,267.8L665.6,438.5M666.4,438.5L666.4,267.8M667.5,267.8L667.5,153.9M674.8,153.9L674.8,97.0M683.9,97.0L683.9,210.8M690.1,210.8L690.1,267.8M702.5,267.8L702.5,324.7M703.5,324.7L703.5,267.8M705.4,267.8L705.4,324.7M715.0,324.7L715.0,210.8M729.5,210.8L729.5,267.8M732.4,267.8L732.4,210.8M741.9,210.8L741.9,267.8M748.1,267.8L748.1,324.7M751.0,324.7L751.0,267.8M754.3,267.8L754.3,210.8M757.6,210.8L757.6,153.9M758.4,153.9L758.4,210.8M765.5,210.8L765.5,153.9M773.0,153.9L773.0,97.0M779.1,97.0L779.1,153.9M789.5,153.9L789.5,210.8M793.6,210.8L793.6,153.9M795.7,153.9L795.7,210.8M797.8,210.8L797.8,153.9M800.0,153.9L800.0,97.0M802.0,97.0L802.0,210.8M806.0,210.8L806.0,153.9M814.4,153.9L814.4,267.8M824.7,267.8L824.7,153.9M828.0,153.9L828.0,97.0M847.5,97.0L847.5,153.9M862.0,153.9L862.0,267.8M871.1,267.8L871.1,153.9M876.0,153.9L876.0,210.8M886.9,210.8L886.9,267.8M891.0,267.8L891.0,324.7M893.5,324.7L893.5,381.6M894.3,381.6L894.3,324.7M896.5,324.7L896.5,381.6M897.3,381.6L897.3,324.7M899.3,324.7L899.3,97.0M903.0,97.0L903.0,153.9M905.5,153.9L905.5,267.8M908.5,267.8L908.5,495.4M909.3,495.4L909.3,324.7M912.0,324.7L912.0,381.6M912.8,381.6L912.8,324.7M915.5,324.7L915.5,381.6M916.3,381.6L916.3,324.7M918.0,324.7L918.0,153.9M920.9,153.9L920.9,381.6M923.0,381.6L923.0,438.5M926.0,438.5L926.0,381.6M929.5,381.6L929.5,267.8M933.6,267.8L933.6,153.9M935.7,153.9L935.7,324.7M942.0,324.7L942.0,153.9M944.8,153.9L944.8,324.7M947.3,324.7L947.3,153.9M952.3,153.9L952.3,97.0M968.9,97.0L968.9,153.9M973.0,153.9L973.0,210.8M978.3,210.8L978.3,267.8M997.0,267.8L997.0,324.7M999.2,324.7L999.2,381.6M1000.8,381.6L1000.8,438.5M1004.2,438.5L1004.2,609.3M1004.8,609.3L1004.8,495.4M1007.0,495.4L1007.0,552.4M1018.8,552.4L1018.8,609.3M1020.0,609.3L1020.0,552.4M1024.0,552.4L1024.0,609.3M1025.0,609.3L1025.0,552.4M1031.5,552.4L1031.5,324.7M1035.0,324.7L1035.0,210.8M1049.4,210.8L1049.4,267.8M1053.7,267.8L1053.7,210.8M1055.7,210.8L1055.7,267.8M1062.3,267.8L1062.3,324.7M1069.5,324.7L1069.5,267.8M1072.4,267.8L1072.4,210.8M1078.1,210.8L1078.1,267.8M1082.4,267.8L1082.4,210.8M1085.3,210.8L1085.3,267.8M1088.2,267.8L1088.2,324.7M1089.3,324.7L1089.3,495.4M1098.7,495.4L1098.7,324.7M1103.0,324.7L1103.0,495.4M1107.3,495.4L1107.3,210.8M1112.0,210.8L1112.0,438.5M1113.0,438.5L1113.0,552.4M1119.5,552.4L1119.5,438.5M1120.5,438.5L1120.5,552.4M1123.8,552.4L1123.8,552.4M1130.6,552.4L1130.6,609.3M1135.3,609.3L1135.3,666.2M1139.6,666.2L1139.6,609.3M1140.2,609.3L1140.2,666.2M1140.8,666.2L1140.8,609.3M1141.6,609.3L1141.6,666.2M1142.2,666.2L1142.2,609.3M1142.8,609.3L1142.8,552.4M1143.4,552.4L1143.4,609.3M1156.8,609.3L1156.8,552.4M1160.5,552.4L1160.5,609.3M1165.2,609.3L1165.2,666.2M1167.0,666.2L1167.0,609.3M1168.0,609.3L1168.0,666.2M1168.6,666.2L1168.6,609.3M1173.6,609.3L1173.6,552.4M1174.2,552.4L1174.2,609.3M1175.5,609.3L1175.5,666.2M1176.1,666.2L1176.1,609.3M1177.3,609.3L1177.3,666.2M1177.9,666.2L1177.9,609.3M1179.3,609.3L1179.3,552.4M1179.9,552.4L1179.9,609.3M1180.6,609.3L1180.6,552.4M1182.5,552.4L1182.5,495.4M1189.2,495.4L1189.2,438.5" fill="none" stroke="rgba(125,105,232,0.48)" stroke-width="1.4"/><text x="514.6" y="394.5" textLength="289" lengthAdjust="spacingAndGlyphs" font-family="Liberation Sans, sans-serif" font-size="51" fill="#a6a6b6" stroke="#a6a6b6" stroke-width="1.2" opacity="0.23">CryptoQuant</text><path d="M118.0,634.9 L119.9,631.7 L122.3,630.1 L124.6,627.7 L127.0,628.5 L128.6,629.3 L131.0,626.2 L133.3,625.4 L135.7,623.0 L138.1,621.4 L140.5,622.2 L142.8,623.0 L144.4,626.2 L146.8,627.0 L148.7,626.2 L149.9,631.7 L150.7,638.0 L152.3,644.3 L153.4,642.8 L154.7,638.8 L157.1,638.8 L159.4,637.2 L161.8,636.4 L164.2,634.5 L166.5,635.7 L168.9,635.7 L171.3,634.1 L172.9,631.7 L174.5,627.7 L176.8,625.4 L177.6,622.2 L178.4,627.0 L180.0,624.6 L181.6,623.8 L183.9,625.4 L185.5,627.0 L187.9,624.6 L189.5,622.5 L191.8,623.8 L194.2,624.6 L196.6,624.6 L198.2,625.4 L200.5,624.6 L202.1,626.2 L205.3,626.2 L208.4,625.8 L211.6,626.2 L214.0,625.4 L215.6,622.2 L216.3,617.5 L217.9,615.6 L220.0,615.4 L221.4,614.7 L222.9,615.0 L224.3,614.0 L225.7,613.6 L227.2,614.7 L228.6,614.4 L230.1,615.4 L231.5,615.9 L232.6,614.0 L233.6,618.3 L235.1,621.9 L236.5,621.6 L238.0,620.5 L240.1,618.7 L241.6,619.7 L242.7,620.5 L243.7,619.3 L245.1,618.7 L246.6,619.3 L248.0,619.7 L249.5,618.7 L250.9,616.9 L252.3,616.1 L254.5,615.9 L255.6,613.3 L256.2,610.4 L257.4,609.3 L258.8,608.2 L260.2,606.8 L262.0,606.1 L262.8,603.2 L263.4,597.5 L264.3,599.6 L265.3,598.2 L266.3,597.2 L267.1,595.3 L267.8,594.3 L268.6,591.7 L269.3,589.6 L270.3,586.0 L271.3,583.8 L272.0,583.1 L272.7,589.6 L273.4,592.4 L274.3,586.0 L275.3,582.4 L276.3,581.7 L277.5,582.4 L278.6,583.8 L279.6,586.0 L280.3,587.4 L281.5,583.8 L282.5,581.7 L283.2,575.9 L283.6,568.7 L284.2,565.1 L284.9,564.4 L285.8,563.7 L286.5,561.6 L287.1,555.8 L287.5,551.5 L288.2,548.6 L289.0,547.9 L289.7,544.3 L290.4,540.0 L290.8,531.1 L292.3,516.7 L293.3,498.7 L294.4,491.5 L295.9,505.9 L297.7,507.7 L299.5,520.3 L301.3,527.5 L303.1,520.3 L304.1,513.1 L305.9,504.1 L307.7,487.9 L308.8,473.5 L310.3,462.7 L311.3,455.5 L312.4,437.6 L313.8,417.8 L314.9,434.0 L315.0,418.9 L316.2,453.1 L317.4,469.0 L318.7,450.7 L319.9,448.2 L321.1,431.1 L322.3,418.9 L323.6,404.2 L324.8,414.0 L326.0,410.3 L327.2,423.8 L328.4,418.9 L329.7,436.0 L330.9,423.8 L332.1,409.1 L333.3,406.7 L334.6,416.5 L335.8,411.6 L337.0,399.3 L338.2,389.6 L339.4,399.3 L340.7,421.3 L341.9,426.2 L343.1,448.2 L344.3,428.7 L345.6,423.8 L346.8,414.0 L348.0,421.3 L349.2,412.8 L350.5,414.0 L351.7,418.9 L352.9,438.5 L354.1,462.9 L355.3,489.8 L356.6,497.1 L357.8,511.8 L359.0,494.7 L360.2,509.4 L361.5,499.6 L362.7,506.9 L363.9,514.3 L365.1,504.5 L366.3,516.7 L367.6,492.2 L368.8,506.9 L370.0,521.6 L371.2,516.7 L372.5,526.5 L373.7,514.3 L374.9,519.1 L376.1,511.8 L377.3,516.7 L378.6,519.1 L379.8,521.6 L381.0,520.4 L382.2,526.5 L383.5,531.4 L384.7,526.5 L385.9,511.8 L387.1,502.0 L388.3,494.7 L389.6,484.9 L390.8,492.2 L392.0,477.6 L393.2,470.2 L394.5,462.9 L395.7,465.4 L396.9,458.0 L398.1,462.9 L399.4,453.1 L400.6,448.2 L401.8,456.8 L403.0,453.1 L404.2,450.7 L405.5,445.8 L406.7,440.9 L407.9,455.6 L409.1,467.8 L410.0,465.9 L411.3,455.6 L412.6,458.2 L413.9,473.7 L415.2,478.9 L416.5,477.6 L417.8,482.7 L419.0,468.5 L420.3,455.6 L421.6,434.9 L422.9,424.6 L424.2,419.4 L425.5,401.3 L426.8,396.2 L428.1,383.3 L429.4,393.6 L430.7,398.8 L432.0,405.2 L433.3,396.2 L434.5,400.1 L435.8,393.6 L437.1,371.6 L438.4,378.1 L439.7,385.8 L441.0,383.3 L442.3,409.1 L443.6,414.3 L444.9,413.0 L446.2,419.4 L447.5,415.6 L448.8,427.2 L449.5,445.3 L450.6,450.4 L451.3,447.9 L452.6,453.0 L453.9,456.9 L455.2,455.6 L456.5,460.8 L457.8,447.9 L459.1,442.7 L460.4,447.9 L461.7,458.2 L463.0,460.8 L464.3,465.9 L465.6,478.9 L466.8,484.0 L468.1,476.3 L469.4,481.4 L470.7,478.9 L472.0,504.7 L473.3,509.9 L474.6,504.7 L475.9,502.1 L477.2,499.5 L478.5,491.8 L479.8,481.4 L481.1,473.7 L482.4,478.9 L483.6,473.7 L484.9,489.2 L486.2,504.7 L487.5,507.3 L488.8,494.4 L490.1,476.3 L491.4,489.2 L492.7,491.8 L494.0,486.6 L495.3,497.0 L496.6,494.4 L497.9,489.2 L499.1,484.0 L500.4,481.4 L501.7,471.1 L503.0,458.2 L504.3,460.8 L505.0,462.0 L506.2,466.9 L507.4,476.7 L508.7,488.9 L509.9,491.3 L511.1,487.7 L512.3,490.1 L513.6,485.2 L514.8,491.3 L516.0,492.6 L517.2,495.0 L518.4,496.2 L519.7,498.7 L520.9,497.5 L522.1,508.5 L523.3,523.1 L524.1,537.8 L525.0,535.4 L527.0,536.6 L528.2,534.1 L529.4,535.4 L530.7,536.6 L531.9,534.1 L533.1,529.2 L534.3,532.9 L535.6,530.5 L536.8,535.4 L538.0,542.7 L538.7,554.9 L539.7,567.1 L540.5,576.9 L541.7,579.4 L542.9,576.9 L544.1,581.8 L545.3,573.3 L546.6,576.9 L547.8,581.8 L549.0,576.9 L550.2,579.4 L551.5,573.3 L552.7,579.4 L553.9,576.9 L555.1,572.0 L556.3,567.1 L557.6,564.7 L558.8,569.6 L560.0,562.2 L561.2,564.7 L562.5,563.5 L563.7,562.2 L564.9,564.7 L566.1,562.2 L567.3,559.8 L568.6,561.0 L569.8,562.2 L571.0,569.6 L572.2,573.3 L573.5,572.0 L574.7,576.9 L575.9,579.4 L577.1,579.4 L578.3,580.6 L579.6,576.9 L580.8,572.0 L582.0,570.8 L583.2,578.1 L584.5,580.6 L585.7,583.0 L586.9,581.8 L588.1,580.6 L589.4,583.0 L590.6,581.8 L591.8,580.6 L593.0,579.4 L594.2,581.3 L595.5,581.8 L596.7,582.3 L597.9,583.0 L599.1,580.6 L600.4,581.8 L601.6,579.4 L602.8,576.9 L604.0,575.7 L605.2,576.9 L606.5,574.5 L607.7,573.3 L608.9,579.4 L610.0,590.9 L611.6,592.5 L613.2,593.3 L614.7,594.8 L616.3,595.6 L617.9,594.0 L619.5,591.7 L621.1,590.9 L622.6,591.7 L624.2,590.9 L625.8,587.7 L626.6,591.7 L628.2,592.5 L630.5,592.5 L632.9,593.3 L635.3,593.3 L637.7,591.7 L639.2,586.1 L640.0,577.4 L640.8,574.3 L642.4,575.1 L643.2,568.0 L644.8,565.6 L646.4,566.4 L647.9,564.0 L649.5,563.2 L651.1,565.6 L652.7,569.5 L654.3,571.1 L655.8,561.6 L657.4,558.5 L659.0,561.6 L660.6,564.8 L662.2,564.8 L663.7,568.0 L665.3,570.3 L666.1,579.0 L666.9,572.7 L667.7,566.4 L668.5,559.3 L670.1,547.4 L671.6,544.3 L673.2,545.8 L674.8,545.0 L676.4,542.7 L678.0,543.5 L679.5,542.7 L681.1,537.9 L682.7,532.4 L684.3,535.6 L685.9,542.7 L687.4,546.6 L689.0,539.5 L690.6,541.1 L692.2,538.7 L693.8,542.7 L695.3,547.4 L696.9,549.0 L698.5,548.2 L700.1,549.0 L701.7,550.6 L703.3,547.4 L704.8,545.0 L706.4,548.2 L708.0,549.8 L709.6,551.4 L711.2,552.9 L712.7,554.5 L714.3,547.4 L715.0,549.3 L716.1,533.1 L718.2,532.1 L720.4,531.0 L722.5,534.2 L724.7,533.1 L726.9,535.3 L729.0,536.4 L731.2,537.5 L733.3,538.1 L735.5,538.5 L737.6,537.5 L739.8,537.5 L741.3,538.5 L742.6,551.5 L744.1,552.5 L746.2,551.9 L748.4,549.3 L749.5,552.5 L751.6,552.5 L753.8,554.7 L755.9,550.4 L758.1,548.9 L760.3,550.4 L762.4,547.2 L764.6,544.6 L766.7,546.1 L767.8,549.3 L770.0,547.2 L771.5,540.7 L772.8,534.2 L774.3,517.0 L776.4,515.9 L778.6,513.8 L780.7,510.5 L781.8,505.1 L784.0,506.2 L786.1,504.1 L788.3,503.0 L790.4,500.8 L791.5,498.7 L792.6,489.0 L793.7,480.3 L795.2,475.0 L796.5,477.1 L797.5,484.7 L799.1,481.4 L800.1,484.7 L801.2,480.3 L802.3,476.0 L803.4,478.2 L804.4,479.3 L805.5,483.6 L806.6,476.0 L807.7,469.6 L808.8,477.1 L809.8,469.6 L810.9,464.2 L812.0,471.7 L813.1,478.2 L814.1,480.3 L815.2,482.5 L816.3,486.8 L817.4,492.2 L818.4,484.7 L819.5,481.4 L820.6,478.2 L822.8,478.2 L823.8,476.0 L824.9,463.1 L825.0,457.1 L826.5,445.9 L827.8,439.3 L829.7,439.3 L831.5,442.1 L832.5,434.7 L833.4,414.1 L834.3,395.4 L835.8,393.6 L836.6,378.6 L838.1,371.1 L839.0,359.9 L840.3,348.7 L841.4,358.0 L842.8,371.1 L843.7,386.1 L844.6,382.3 L845.6,373.0 L846.5,359.9 L848.4,359.9 L849.3,361.8 L850.2,376.7 L851.2,371.1 L852.1,361.8 L853.0,356.2 L854.0,363.6 L854.9,359.9 L855.8,373.0 L856.8,386.1 L857.7,393.6 L858.6,384.2 L859.6,376.7 L860.5,384.2 L861.4,387.9 L862.4,393.6 L863.3,410.4 L864.3,401.0 L865.2,387.9 L866.1,389.8 L867.1,393.6 L868.0,399.2 L868.9,395.4 L869.9,386.1 L870.8,378.6 L871.7,369.3 L872.7,363.6 L873.6,359.0 L874.5,367.4 L875.5,365.5 L876.4,368.3 L877.3,369.3 L878.3,363.6 L879.2,367.4 L880.1,356.2 L881.1,358.0 L882.0,363.6 L882.9,369.3 L883.9,372.1 L884.8,374.9 L885.7,378.6 L886.7,381.4 L887.6,384.2 L888.6,387.9 L889.5,397.3 L890.4,399.2 L891.4,401.0 L892.3,391.7 L893.2,397.3 L894.2,419.7 L895.1,418.8 L896.0,416.0 L897.0,414.1 L897.9,404.8 L898.8,395.4 L899.8,386.1 L900.7,380.5 L901.6,373.0 L902.6,370.2 L903.5,376.7 L904.4,373.0 L905.4,369.3 L906.3,378.6 L907.2,391.7 L908.2,408.5 L909.1,431.9 L910.0,416.0 L911.0,402.9 L911.9,401.0 L912.9,406.6 L913.8,410.4 L914.7,408.5 L915.7,404.8 L916.6,401.0 L917.5,389.8 L918.5,386.1 L919.4,393.6 L920.3,404.8 L921.3,406.6 L922.2,410.4 L923.1,414.1 L924.1,421.6 L925.0,428.1 L925.9,419.7 L926.9,416.0 L927.8,410.4 L928.7,404.8 L929.7,395.4 L930.6,391.7 L931.5,390.7 L932.5,386.1 L933.4,384.2 L934.3,379.5 L935.3,386.1 L936.2,397.3 L937.1,395.4 L938.1,391.7 L939.0,393.6 L940.0,399.2 L940.9,386.1 L941.4,375.8 L942.7,370.3 L944.1,367.6 L945.5,371.7 L946.8,364.9 L948.2,362.1 L949.6,351.2 L950.9,364.9 L952.3,353.9 L953.1,332.1 L954.2,304.8 L955.0,285.6 L955.8,274.7 L956.9,270.6 L958.0,263.8 L959.1,244.6 L960.5,235.1 L961.9,247.4 L963.2,243.3 L964.6,246.0 L966.0,239.2 L967.3,225.5 L968.7,236.4 L970.1,222.8 L971.4,206.4 L972.2,200.9 L973.3,222.8 L974.4,239.2 L975.5,237.8 L976.9,247.4 L978.3,252.8 L979.6,244.6 L981.0,231.0 L982.3,241.9 L983.7,256.9 L985.1,244.6 L986.4,225.5 L987.8,211.9 L989.2,209.1 L990.5,210.5 L991.9,209.1 L993.3,225.5 L994.6,236.4 L996.0,241.9 L997.4,240.5 L998.7,243.3 L1000.1,240.5 L1001.5,244.6 L1002.8,240.5 L1004.2,247.4 L1005.6,272.0 L1006.4,304.8 L1007.8,274.7 L1008.9,272.0 L1009.7,288.4 L1011.0,313.0 L1012.4,304.8 L1013.8,296.6 L1015.1,299.3 L1016.5,293.8 L1017.9,285.6 L1019.2,288.4 L1020.6,297.9 L1022.0,293.8 L1023.3,304.8 L1024.7,323.9 L1026.1,302.0 L1027.4,296.6 L1028.8,295.2 L1030.2,293.8 L1031.5,272.0 L1032.9,258.3 L1034.3,255.6 L1035.0,250.8 L1036.4,245.1 L1037.9,230.7 L1039.3,216.3 L1040.7,212.0 L1042.2,210.6 L1043.6,202.0 L1045.1,187.6 L1045.9,181.8 L1047.1,187.6 L1047.9,196.2 L1049.4,204.8 L1050.8,209.1 L1052.2,204.8 L1053.7,210.6 L1054.5,190.5 L1055.7,196.2 L1056.6,204.8 L1058.0,207.7 L1059.4,213.4 L1060.9,222.1 L1062.3,202.0 L1063.7,196.2 L1065.2,194.8 L1066.6,191.9 L1068.0,187.6 L1068.9,167.5 L1070.1,153.1 L1070.9,138.7 L1071.8,150.2 L1073.8,147.4 L1076.7,148.8 L1078.1,153.1 L1079.5,167.5 L1081.0,170.3 L1082.4,153.1 L1083.9,144.5 L1085.3,138.7 L1086.7,150.2 L1088.2,164.6 L1089.6,161.7 L1091.0,176.1 L1092.5,184.7 L1093.9,190.5 L1095.3,183.3 L1096.8,179.0 L1098.2,167.5 L1099.7,160.3 L1101.1,161.7 L1102.5,156.0 L1104.0,170.3 L1105.4,187.6 L1106.8,176.1 L1108.3,153.1 L1109.7,133.0 L1110.6,122.9 L1111.7,133.0 L1112.6,153.1 L1113.2,176.1 L1114.0,170.3 L1115.5,196.2 L1116.9,199.1 L1118.3,184.7 L1119.8,176.1 L1120.6,164.6 L1121.8,176.1 L1122.6,187.6 L1124.1,193.3 L1125.5,204.8 L1127.0,220.6 L1127.9,230.0 L1128.7,247.1 L1129.9,254.4 L1131.1,269.1 L1131.8,288.7 L1132.8,297.2 L1133.6,286.2 L1134.8,269.1 L1136.0,288.7 L1136.7,274.0 L1137.7,259.3 L1138.4,269.1 L1139.7,264.2 L1140.9,274.0 L1142.1,283.8 L1143.3,286.2 L1144.6,280.1 L1145.8,286.2 L1147.0,281.3 L1148.2,282.6 L1149.4,281.3 L1150.7,282.6 L1151.9,276.5 L1153.1,266.7 L1153.9,259.3 L1154.8,266.7 L1156.1,269.1 L1157.3,254.4 L1158.0,245.9 L1159.2,249.6 L1160.5,261.8 L1161.7,275.2 L1162.9,276.5 L1164.1,277.7 L1164.9,291.1 L1165.6,308.2 L1166.6,327.8 L1167.5,357.1 L1168.5,366.9 L1169.5,362.0 L1170.5,371.8 L1171.5,364.5 L1172.7,371.8 L1173.9,369.4 L1175.1,374.3 L1176.3,381.6 L1177.6,386.5 L1178.8,376.7 L1180.0,366.9 L1181.2,352.2 L1182.5,362.0 L1183.7,359.6 L1184.9,352.2 L1186.1,342.5 L1187.3,357.1 L1188.6,359.6 L1189.8,357.1 L1191.0,364.5 L1192.2,374.3 L1193.5,375.5 L1194.7,371.8 L1195.9,369.4 L1197.1,362.0 L1198.3,349.8 L1199.6,344.9 L1200.6,341.2" fill="none" stroke="#1f171b" stroke-width="1.75" stroke-linejoin="round"/><line x1="100.8" x2="100.8" y1="96.5" y2="666.5" stroke="#555" stroke-width="2"/><line x1="1217.5" x2="1217.5" y1="96.5" y2="666.5" stroke="#c7c0fb" stroke-width="2"/><line x1="117.3" x2="117.3" y1="667" y2="674" stroke="#ececec" stroke-width="1"/><text x="117.3" y="691" text-anchor="middle" font-family="Liberation Sans, sans-serif" font-size="12.5" fill="#838383">2020 Jan</text><line x1="203.2" x2="203.2" y1="667" y2="674" stroke="#ececec" stroke-width="1"/><text x="203.2" y="691" text-anchor="middle" font-family="Liberation Sans, sans-serif" font-size="12.5" fill="#838383">2020 Jul</text><line x1="290.0" x2="290.0" y1="667" y2="674" stroke="#ececec" stroke-width="1"/><text x="290.0" y="691" text-anchor="middle" font-family="Liberation Sans, sans-serif" font-size="12.5" fill="#838383">2021 Jan</text><line x1="375.4" x2="375.4" y1="667" y2="674" stroke="#ececec" stroke-width="1"/><text x="375.4" y="691" text-anchor="middle" font-family="Liberation Sans, sans-serif" font-size="12.5" fill="#838383">2021 Jul</text><line x1="462.2" x2="462.2" y1="667" y2="674" stroke="#ececec" stroke-width="1"/><text x="462.2" y="691" text-anchor="middle" font-family="Liberation Sans, sans-serif" font-size="12.5" fill="#838383">2022 Jan</text><line x1="547.6" x2="547.6" y1="667" y2="674" stroke="#ececec" stroke-width="1"/><text x="547.6" y="691" text-anchor="middle" font-family="Liberation Sans, sans-serif" font-size="12.5" fill="#838383">2022 Jul</text><line x1="634.4" x2="634.4" y1="667" y2="674" stroke="#ececec" stroke-width="1"/><text x="634.4" y="691" text-anchor="middle" font-family="Liberation Sans, sans-serif" font-size="12.5" fill="#838383">2023 Jan</text><line x1="719.8" x2="719.8" y1="667" y2="674" stroke="#ececec" stroke-width="1"/><text x="719.8" y="691" text-anchor="middle" font-family="Liberation Sans, sans-serif" font-size="12.5" fill="#838383">2023 Jul</text><line x1="806.6" x2="806.6" y1="667" y2="674" stroke="#ececec" stroke-width="1"/><text x="806.6" y="691" text-anchor="middle" font-family="Liberation Sans, sans-serif" font-size="12.5" fill="#838383">2024 Jan</text><line x1="892.5" x2="892.5" y1="667" y2="674" stroke="#ececec" stroke-width="1"/><text x="892.5" y="691" text-anchor="middle" font-family="Liberation Sans, sans-serif" font-size="12.5" fill="#838383">2024 Jul</text><line x1="979.3" x2="979.3" y1="667" y2="674" stroke="#ececec" stroke-width="1"/><text x="979.3" y="691" text-anchor="middle" font-family="Liberation Sans, sans-serif" font-size="12.5" fill="#838383">2025 Jan</text><line x1="1064.7" x2="1064.7" y1="667" y2="674" stroke="#ececec" stroke-width="1"/><text x="1064.7" y="691" text-anchor="middle" font-family="Liberation Sans, sans-serif" font-size="12.5" fill="#838383">2025 Jul</text><line x1="1151.5" x2="1151.5" y1="667" y2="674" stroke="#ececec" stroke-width="1"/><text x="1151.5" y="691" text-anchor="middle" font-family="Liberation Sans, sans-serif" font-size="12.5" fill="#838383">2026 Jan</text><text x="88.6" y="670.4" text-anchor="end" font-family="Liberation Sans, sans-serif" font-size="16" fill="#444">0</text><text x="88.6" y="539.4" text-anchor="end" font-family="Liberation Sans, sans-serif" font-size="16" fill="#444">30K</text><text x="88.6" y="408.3" text-anchor="end" font-family="Liberation Sans, sans-serif" font-size="16" fill="#444">60K</text><text x="88.6" y="277.3" text-anchor="end" font-family="Liberation Sans, sans-serif" font-size="16" fill="#444">90K</text><text x="88.6" y="146.3" text-anchor="end" font-family="Liberation Sans, sans-serif" font-size="16" fill="#444">120K</text><text x="1230.3" y="670.2" font-family="Liberation Sans, sans-serif" font-size="16" fill="#444">0</text><text x="1230.3" y="556.3" font-family="Liberation Sans, sans-serif" font-size="16" fill="#444">20</text><text x="1230.3" y="442.4" font-family="Liberation Sans, sans-serif" font-size="16" fill="#444">40</text><text x="1230.3" y="328.6" font-family="Liberation Sans, sans-serif" font-size="16" fill="#444">60</text><text x="1230.3" y="214.7" font-family="Liberation Sans, sans-serif" font-size="16" fill="#444">80</text><text x="1230.3" y="100.8" font-family="Liberation Sans, sans-serif" font-size="16" fill="#444">100</text><text transform="translate(42.3,381) rotate(-90)" text-anchor="middle" font-family="Liberation Sans, sans-serif" font-size="15.5" fill="#333">Price ($)</text><text transform="translate(1266,381) rotate(90)" text-anchor="middle" font-family="Liberation Sans, sans-serif" font-size="15.5" fill="#333">Bull Score</text><text x="505.2" y="41.2" textLength="299" lengthAdjust="spacingAndGlyphs" font-family="Liberation Sans, sans-serif" font-weight="bold" font-size="26" fill="#111">Bitcoin: Bull Score Index</text><circle cx="577.8" cy="66" r="8.1" fill="#b0a6f3"/><text x="592.5" y="73.4" textLength="70.2" lengthAdjust="spacingAndGlyphs" font-family="Liberation Sans, sans-serif" font-size="16" fill="#333">Bull Score</text><line x1="682.4" x2="701.4" y1="69" y2="69" stroke="#333" stroke-width="1.5"/><text x="706.9" y="73.4" textLength="33.5" lengthAdjust="spacingAndGlyphs" font-family="Liberation Sans, sans-serif" font-size="16" fill="#333">Price</text></svg>
</body></html>
